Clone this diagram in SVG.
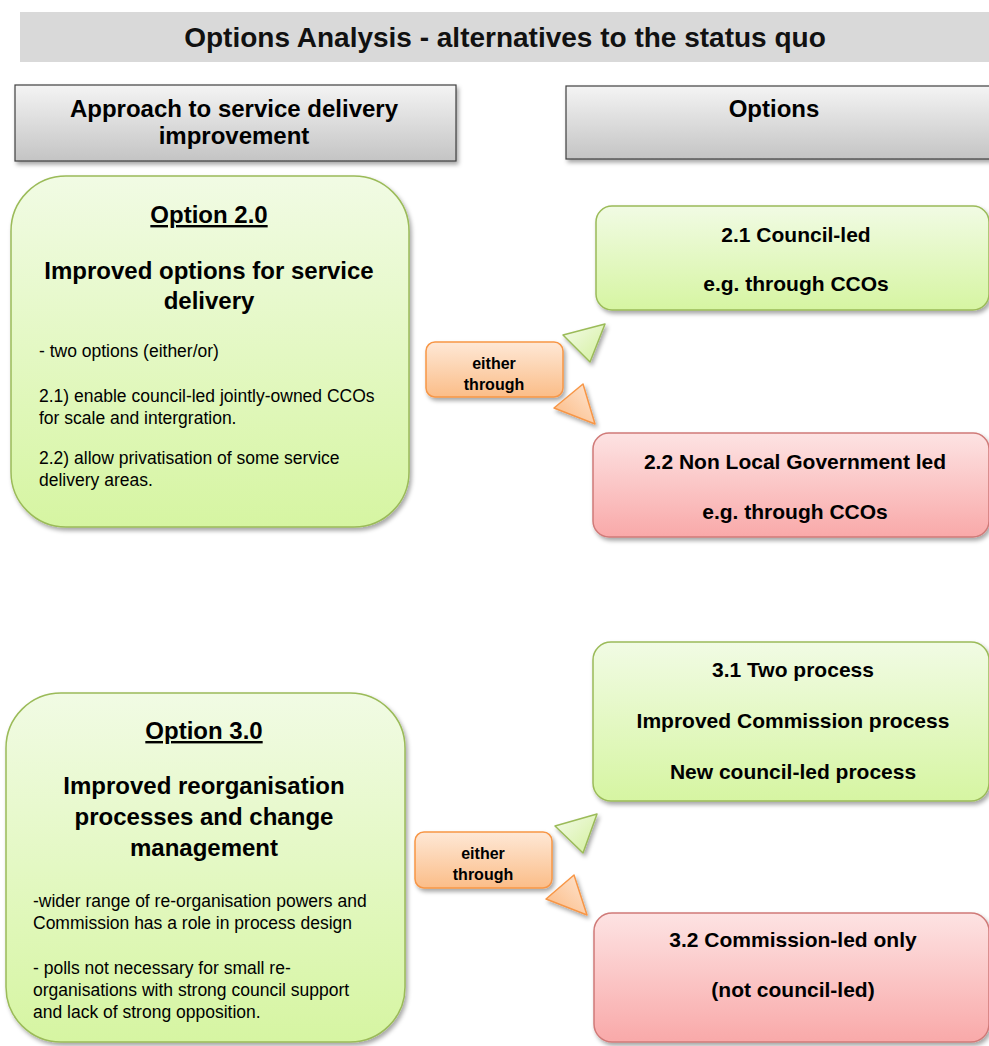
<svg xmlns="http://www.w3.org/2000/svg" width="989" height="1046" viewBox="0 0 989 1046">
<defs>
<linearGradient id="gGray" x1="0" y1="0" x2="0" y2="1"><stop offset="0" stop-color="#f4f4f4"/><stop offset="1" stop-color="#c4c4c4"/></linearGradient>
<linearGradient id="gGreen" x1="0" y1="0" x2="0" y2="1"><stop offset="0" stop-color="#f1fbe4"/><stop offset="1" stop-color="#d6f5a2"/></linearGradient>
<linearGradient id="gRed" x1="0" y1="0" x2="0" y2="1"><stop offset="0" stop-color="#fde3e3"/><stop offset="1" stop-color="#f9a9a9"/></linearGradient>
<linearGradient id="gOrange" x1="0" y1="0" x2="0" y2="1"><stop offset="0" stop-color="#fee8d6"/><stop offset="1" stop-color="#fbbd88"/></linearGradient>
<linearGradient id="gGreenT" x1="0" y1="0" x2="1" y2="1"><stop offset="0" stop-color="#f4fbea"/><stop offset="1" stop-color="#d3f09c"/></linearGradient>
<linearGradient id="gOrangeT" x1="1" y1="0" x2="0" y2="1"><stop offset="0" stop-color="#fee6d2"/><stop offset="1" stop-color="#fbb880"/></linearGradient>
<filter id="sh" x="-10%" y="-10%" width="125%" height="130%"><feDropShadow dx="2" dy="3" stdDeviation="2" flood-color="#000" flood-opacity="0.35"/></filter>
</defs>
<style>
text{font-family:"Liberation Sans",Arial,sans-serif;fill:#000}
.title{font-size:28px;font-weight:bold;fill:#111}
.hdr{font-size:24px;font-weight:bold}
.big{font-size:24px;font-weight:bold}
.small{font-size:17.5px}
.opt{font-size:21px;font-weight:bold}
.eth{font-size:16px;font-weight:bold}
.c{text-anchor:middle}
.green{fill:url(#gGreen);stroke:#9bbb59;stroke-width:1.5}
.red{fill:url(#gRed);stroke:#d07a78;stroke-width:1.5}
.orange{fill:url(#gOrange);stroke:#f79646;stroke-width:1.5}
.gray{fill:url(#gGray);stroke:#3f3f3f;stroke-width:1.2}
.tg{fill:url(#gGreenT);stroke:#9bbb59;stroke-width:1.5;stroke-linejoin:round}
.to{fill:url(#gOrangeT);stroke:#f79646;stroke-width:1.5;stroke-linejoin:round}
</style>
<g id="title">
<rect x="20" y="12" width="969" height="50" fill="#d9d9d9"/>
<text class="title c" x="505" y="47">Options Analysis - alternatives to the status quo</text>
</g>
<g id="header-approach">
<rect class="gray" x="15" y="85" width="441" height="76" filter="url(#sh)"/>
<text class="hdr c" x="234" y="117">Approach to service delivery</text>
<text class="hdr c" x="234" y="144">improvement</text>
</g>
<g id="header-options">
<rect class="gray" x="566" y="86" width="430" height="73" filter="url(#sh)"/>
<text class="hdr c" x="774" y="117">Options</text>
</g>
<g id="option-2-0">
<rect class="green" x="11" y="176" width="398" height="351" rx="55" ry="55" filter="url(#sh)"/>
<text class="big c" x="209" y="223" text-decoration="underline">Option 2.0</text>
<text class="big c" x="209" y="279">Improved options for service</text>
<text class="big c" x="209" y="309">delivery</text>
<text class="small" x="39" y="357">- two options (either/or)</text>
<text class="small" x="39" y="402">2.1) enable council-led jointly-owned CCOs</text>
<text class="small" x="39" y="424">for scale and intergration.</text>
<text class="small" x="39" y="464">2.2) allow privatisation of some service</text>
<text class="small" x="39" y="486">delivery areas.</text>
</g>
<g id="either-1">
<rect class="orange" x="426" y="342" width="137" height="55" rx="9" ry="9" filter="url(#sh)"/>
<text class="eth c" x="494" y="369">either</text>
<text class="eth c" x="494" y="390">through</text>
</g>
<g id="option-2-1">
<rect class="green" x="596" y="206" width="393" height="104" rx="16" ry="16" filter="url(#sh)"/>
<text class="opt c" x="796" y="242">2.1 Council-led</text>
<text class="opt c" x="796" y="291">e.g. through CCOs</text>
</g>
<g id="option-2-2">
<rect class="red" x="593" y="433" width="396" height="104" rx="16" ry="16" filter="url(#sh)"/>
<text class="opt c" x="795" y="469">2.2 Non Local Government led</text>
<text class="opt c" x="795" y="519">e.g. through CCOs</text>
</g>
<g id="option-3-0">
<rect class="green" x="6" y="693" width="399" height="349" rx="55" ry="55" filter="url(#sh)"/>
<text class="big c" x="204" y="739" text-decoration="underline">Option 3.0</text>
<text class="big c" x="204" y="794">Improved reorganisation</text>
<text class="big c" x="204" y="825">processes and change</text>
<text class="big c" x="204" y="856">management</text>
<text class="small" x="33" y="907">-wider range of re-organisation powers and</text>
<text class="small" x="33" y="929">Commission has a role in process design</text>
<text class="small" x="33" y="974">- polls not necessary for small re-</text>
<text class="small" x="33" y="996">organisations with strong council support</text>
<text class="small" x="33" y="1018">and lack of strong opposition.</text>
</g>
<g id="either-2">
<rect class="orange" x="415" y="832" width="137" height="56" rx="9" ry="9" filter="url(#sh)"/>
<text class="eth c" x="483" y="859">either</text>
<text class="eth c" x="483" y="880">through</text>
</g>
<g id="option-3-1">
<rect class="green" x="593" y="642" width="396" height="159" rx="18" ry="18" filter="url(#sh)"/>
<text class="opt c" x="793" y="677">3.1 Two process</text>
<text class="opt c" x="793" y="728">Improved Commission process</text>
<text class="opt c" x="793" y="779">New council-led process</text>
</g>
<g id="option-3-2">
<rect class="red" x="594" y="913" width="395" height="129" rx="18" ry="18" filter="url(#sh)"/>
<text class="opt c" x="793" y="947">3.2 Commission-led only</text>
<text class="opt c" x="793" y="997">(not council-led)</text>
</g>
<g id="connectors">
<polygon class="tg" points="563,335 605,324 590,362" filter="url(#sh)"/>
<polygon class="to" points="583,384 595,424 554,408" filter="url(#sh)"/>
<polygon class="tg" points="555,826 597,814 583,853" filter="url(#sh)"/>
<polygon class="to" points="574,875 587,915 546,899" filter="url(#sh)"/>
</g>
</svg>
